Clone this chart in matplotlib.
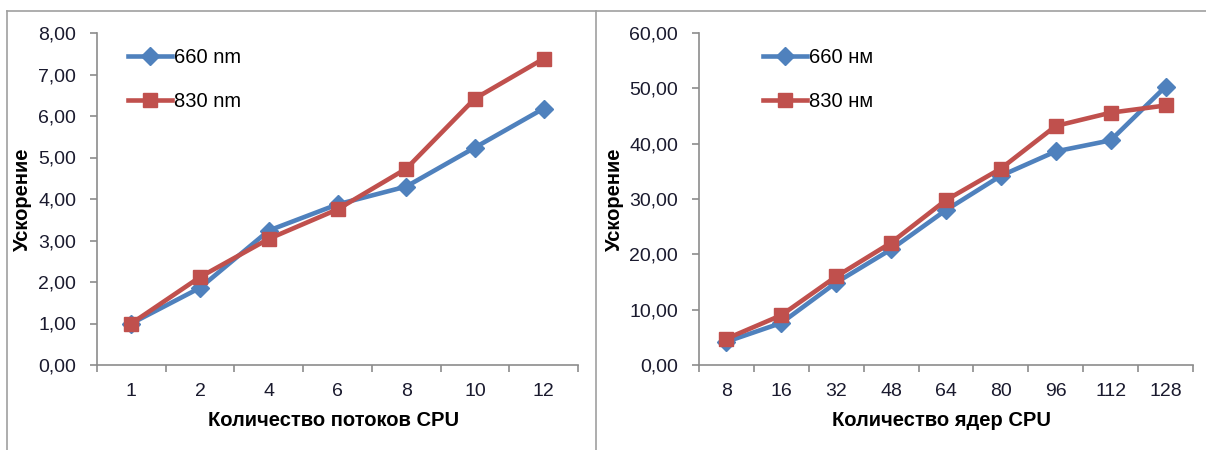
import numpy as np
import matplotlib
matplotlib.use("Agg")
import matplotlib.pyplot as plt
from matplotlib.ticker import FuncFormatter, FixedLocator
from matplotlib.lines import Line2D

plt.rcParams['font.family'] = ['Liberation Sans', 'DejaVu Sans']

# данные: левый график (потоки CPU)
threads = ['1', '2', '4', '6', '8', '10', '12']
speed_660_thr = [1.00, 1.86, 3.24, 3.87, 4.30, 5.24, 6.18]
speed_830_thr = [1.00, 2.12, 3.04, 3.75, 4.73, 6.42, 7.38]

# данные: правый график (ядра CPU)
cores = ['8', '16', '32', '48', '64', '80', '96', '112', '128']
speed_660_cor = [4.2, 7.6, 14.9, 20.9, 28.0, 34.2, 38.6, 40.6, 50.3]
speed_830_cor = [4.75, 9.0, 16.0, 22.1, 29.8, 35.5, 43.2, 45.6, 46.9]

blue = '#4F81BD'
red = '#C0504D'
grey = '#8C8C8C'
W, H = 1206, 450

fig = plt.figure(figsize=(W / 100, H / 100), dpi=100)

# рамки вокруг диаграмм
frame_kw = dict(color='#A0A0A0', lw=1.2)
fig.add_artist(Line2D([7 / W, 1], [1 - 11 / H, 1 - 11 / H], **frame_kw))
fig.add_artist(Line2D([7 / W, 7 / W], [0, 1 - 11 / H], **frame_kw))
fig.add_artist(Line2D([596 / W, 596 / W], [0, 1 - 11 / H], **frame_kw))


def comma_fmt(v, pos):
    return f'{v:.2f}'.replace('.', ',')


def draw(rect, cats, s660, s830, ymax, ystep, lab660, lab830, xlabel, ylab_x, leg_x):
    ax = fig.add_axes(rect)
    x = np.arange(len(cats))
    ax.plot(x, s660, color=blue, lw=3.3, marker='D', ms=9, label=lab660, zorder=3)
    ax.plot(x, s830, color=red, lw=3.3, marker='s', ms=10.5, label=lab830, zorder=4)

    ax.set_xlim(-0.5, len(cats) - 0.5)
    ax.set_ylim(0, ymax)
    ax.set_yticks(np.arange(0, ymax + ystep / 2, ystep))
    ax.yaxis.set_major_formatter(FuncFormatter(comma_fmt))

    ax.set_xticks(x)
    ax.set_xticklabels(cats)
    ax.xaxis.set_minor_locator(FixedLocator(np.arange(-0.5, len(cats), 1.0)))
    ax.tick_params(axis='x', which='major', length=0, pad=13, labelsize=14, colors='#1a1a2e')
    ax.tick_params(axis='x', which='minor', length=5, width=1.2, color=grey, direction='out')
    ax.tick_params(axis='y', length=5, width=1.2, color=grey, pad=10, labelsize=14, labelcolor='#1a1a2e')

    for side in ('top', 'right'):
        ax.spines[side].set_visible(False)
    for side in ('left', 'bottom'):
        ax.spines[side].set_color(grey)
        ax.spines[side].set_linewidth(1.2)

    ax.legend(loc='upper left', bbox_to_anchor=(leg_x, 0.955), frameon=False,
              handlelength=2.15, handletextpad=0.1, labelspacing=1.25,
              borderpad=0, borderaxespad=0, prop={'size': 14.5})

    pos = ax.get_position()
    fig.text(pos.x0 + pos.width / 2 - 4 / W, 30 / H, xlabel, ha='center', va='center',
             fontsize=14.5, fontweight='bold')
    fig.text(ylab_x / W, pos.y0 + pos.height / 2, 'Ускорение', rotation=90,
             ha='center', va='center', fontsize=14.5, fontweight='bold')
    return ax


draw([97 / W, 1 - 365 / H, 481 / W, 332 / H], threads, speed_660_thr, speed_830_thr,
     8, 1, '660 nm', '830 nm', 'Количество потоков CPU', 22, 0.065)
draw([699 / W, 1 - 365 / H, 494 / W, 332 / H], cores, speed_660_cor, speed_830_cor,
     60, 10, '660 нм', '830 нм', 'Количество ядер CPU', 614, 0.13)

fig.savefig('out.png', dpi=100)
